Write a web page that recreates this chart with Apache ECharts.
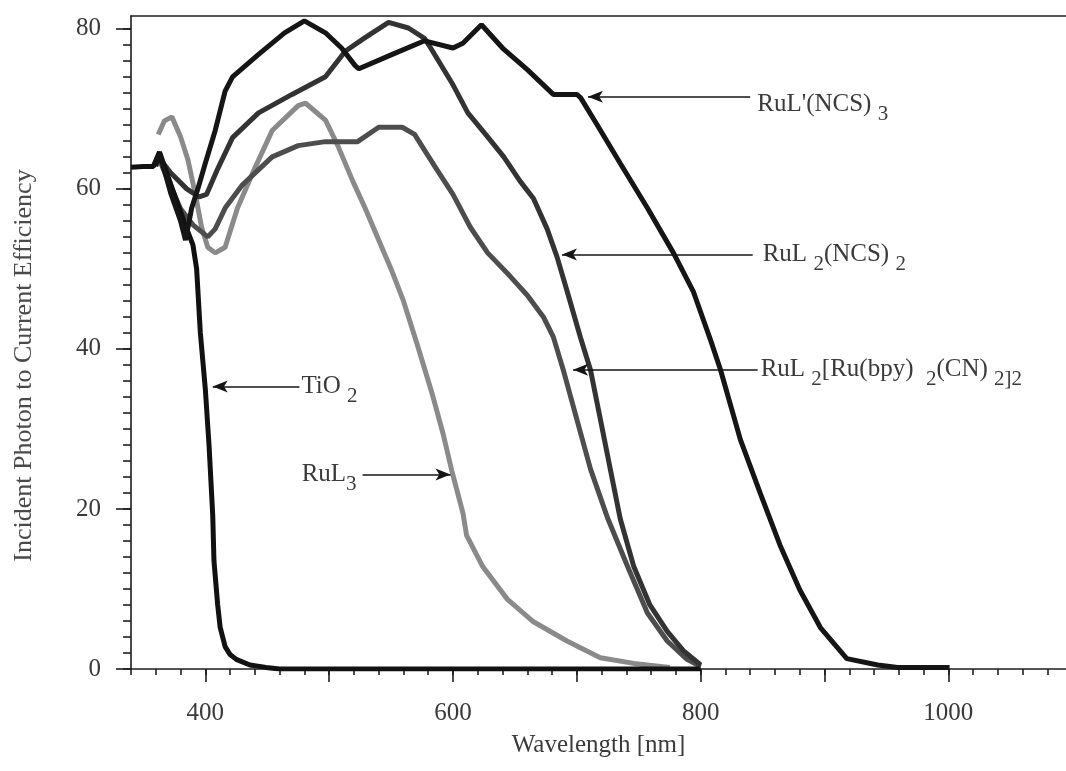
<!DOCTYPE html>
<html>
<head>
<meta charset="utf-8">
<script src="https://cdn.jsdelivr.net/npm/echarts@6/dist/echarts.min.js"></script>
<style>
  html, body { margin: 0; padding: 0; background: #fff; }
  #ipce { width: 1066px; height: 771px; }
</style>
</head>
<body>
<div id="ipce"></div>
<script>
// wavelength [nm], IPCE [%]
const tio2 = [[340,62.7],[350,62.8],[358,62.8],[363,64.6],[370,61.5],[378,58],[385,55],[390,53],[393,50],[396,42],[400,35],[403,28],[406,19.2],[407,13.5],[410,8],[412,5.2],[416,2.8],[420,1.8],[425,1.2],[436,0.5],[449,0.2],[460,0],[600,0],[800,0]];
const rul3 = [[362,66.8],[367,68.5],[373,69],[380,66.5],[386,63.6],[392,59.3],[397,55.2],[402,52.7],[408,52],[416,52.7],[426,57.6],[438,61.9],[454,67.3],[475,70.4],[481,70.7],[497,68.6],[507,65.4],[519,61],[529,57.6],[540,53.6],[551,49.6],[560,46],[571,40.6],[583,34.5],[592,29.4],[599,24.8],[608,19.5],[611,16.7],[624,12.8],[644,8.7],[665,5.9],[692,3.5],[719,1.4],[746,0.7],[775,0.2]];
const trinuclear = [[362,64],[370,61],[380,57.5],[390,55.5],[402,54],[408,55],[416,57.6],[430,60.5],[454,64],[475,65.4],[497,65.9],[523,65.9],[540,67.7],[559,67.7],[569,66.8],[578,64.6],[587,62.4],[600,59.3],[614,55.2],[628,52],[646,49.1],[660,46.7],[673,44],[681,41.5],[689,37.4],[700,31.2],[711,25],[725,18.8],[741,12.8],[757,7],[773,3.5],[789,1.2],[800,0.3]];
const n3 = [[362,64],[372,62],[385,60],[395,59],[401,59.3],[410,62.5],[422,66.4],[443,69.5],[470,71.8],[497,74],[513,77.2],[529,78.9],[548,80.8],[564,80.1],[577,78.8],[582,77.6],[600,73],[612,69.5],[628,66.5],[641,64],[654,61],[665,58.8],[676,55],[684,51.5],[692,47.3],[703,41.4],[711,37.4],[719,31.2],[727,25],[735,18.8],[746,12.8],[759,8],[773,4.7],[786,2.3],[800,0.5]];
const blackDye = [[360,62.8],[363,64.5],[372,59.5],[380,56],[384,53.6],[389,57.6],[394,60],[400,63.2],[408,67.3],[416,72.2],[422,74],[443,76.8],[464,79.5],[480,81],[497,79.5],[510,77.6],[521,75.4],[524,75],[551,76.8],[577,78.5],[600,77.6],[608,78.2],[623,80.5],[640,77.6],[660,74.9],[681,71.8],[700,71.8],[703,71.4],[716,68.1],[735,63.2],[757,57.6],[778,52],[794,47.2],[808,41.1],[816,37.4],[832,28.7],[848,22],[864,15.5],[880,9.9],[897,5.1],[918,1.3],[943,0.5],[959,0.2],[1001,0.2]];

// tick values
const xLabels = [400, 600, 800, 1000];
const xMajor = [400, 500, 600, 700, 800, 900, 1000];
const xMinor = [];
for (let v = 340; v <= 1080; v += 20) xMinor.push(v);
const yLabels = [0, 20, 40, 60, 80];
const yMinor = [];
for (let v = 0; v <= 80; v += 2) yMinor.push(v);

const font = "'Liberation Serif', 'Times New Roman', serif";
const ink = '#3a3a3a';
const axisColor = '#1e1e1e';

const rich = {
  n: { fontFamily: font, fontSize: 25, color: ink },
  s: { fontFamily: font, fontSize: 21, color: ink, padding: [20, 0, 0, 0] }
};

function arrowLine(from, to, text, labelPos, extra) {
  return {
    silent: true,
    animation: false,
    symbol: labelPos === 'end' ? ['arrow', 'none'] : ['none', 'arrow'],
    symbolSize: [9, 15],
    lineStyle: { color: '#151515', width: 1.6, type: 'solid' },
    label: Object.assign({
      show: true,
      position: labelPos,
      formatter: text,
      rich: rich,
      distance: 4
    }, extra || {}),
    data: [[{ coord: from }, { coord: to }]]
  };
}

function curve(name, data, color, mark) {
  return {
    name: name,
    type: 'line',
    data: data,
    showSymbol: false,
    smooth: false,
    animation: false,
    lineStyle: { color: color, width: 5 },
    itemStyle: { color: color },
    markLine: mark
  };
}

const myChart = echarts.init(document.getElementById('ipce'));
const option = {
  backgroundColor: '#fff',
  grid: { left: 131, right: 0, top: 16, bottom: 102 },
  xAxis: [
    {
      type: 'value', min: 340, max: 1095, position: 'bottom', offset: 4,
      axisLine: { show: true, lineStyle: { color: axisColor, width: 1.6 } },
      axisTick: { show: true, customValues: xMinor, length: 6, lineStyle: { color: axisColor, width: 1.6 } },
      axisLabel: {
        customValues: xLabels, margin: 28, fontSize: 25, fontFamily: font, color: ink,
        formatter: function (value) { return String(value); }
      },
      splitLine: { show: false },
      name: 'Wavelength [nm]', nameLocation: 'middle', nameGap: 60,
      nameTextStyle: { fontSize: 25, fontFamily: font, color: ink }
    },
    {
      type: 'value', min: 340, max: 1095, position: 'bottom', offset: 4,
      axisLine: { show: false },
      axisTick: { show: true, customValues: xMajor, length: 13, lineStyle: { color: axisColor, width: 1.6 } },
      axisLabel: { show: false },
      splitLine: { show: false }
    },
    {
      type: 'value', min: 340, max: 1095, position: 'top',
      axisLine: { show: true, lineStyle: { color: axisColor, width: 1.6 } },
      axisTick: { show: false },
      axisLabel: { show: false },
      splitLine: { show: false }
    }
  ],
  yAxis: [
    {
      type: 'value', min: 0, max: 81.6, position: 'left',
      axisLine: { show: true, lineStyle: { color: axisColor, width: 1.6 } },
      axisTick: { show: true, customValues: yMinor, length: 8, lineStyle: { color: axisColor, width: 1.6 } },
      axisLabel: { customValues: yLabels, margin: 30, fontSize: 25, fontFamily: font, color: ink },
      splitLine: { show: false },
      name: 'Incident Photon to Current Efficiency', nameLocation: 'middle', nameGap: 94,
      nameTextStyle: { fontSize: 26, fontFamily: font, color: '#4a4a4a', padding: [0, 46, 0, 0] }
    },
    {
      type: 'value', min: 0, max: 81.6, position: 'left',
      axisLine: { show: false },
      axisTick: { show: true, customValues: yLabels, length: 15, lineStyle: { color: axisColor, width: 1.6 } },
      axisLabel: { show: false },
      splitLine: { show: false }
    }
  ],
  series: [
    curve('RuL3', rul3, '#8a8a8a',
      arrowLine([527, 24.3], [598, 24.3], '{n|RuL}{s|3}', 'start', { distance: 6 })),
    curve('RuL2[Ru(bpy)2(CN)2]2', trinuclear, '#4d4d4d',
      arrowLine([697, 37.4], [846, 37.4], '{n|RuL }{s|2}{n|[Ru(bpy)  }{s|2}{n|(CN) }{s|2]2}', 'end', { distance: 3 })),
    curve('RuL2(NCS)2', n3, '#333333',
      arrowLine([688, 51.8], [842, 51.8], '{n|RuL }{s|2}{n|(NCS) }{s|2}', 'end', { distance: 10 })),
    curve('TiO2', tio2, '#111111',
      arrowLine([406, 35.3], [476, 35.3], '{n|TiO }{s|2}', 'end', { distance: 2 })),
    curve("RuL'(NCS)3", blackDye, '#151515',
      arrowLine([709, 71.5], [840, 71.5], "{n|RuL'(NCS) }{s|3}", 'end', { distance: 7, padding: [16, 0, 0, 0] }))
  ]
};
option && myChart.setOption(option);
</script>
</body>
</html>
